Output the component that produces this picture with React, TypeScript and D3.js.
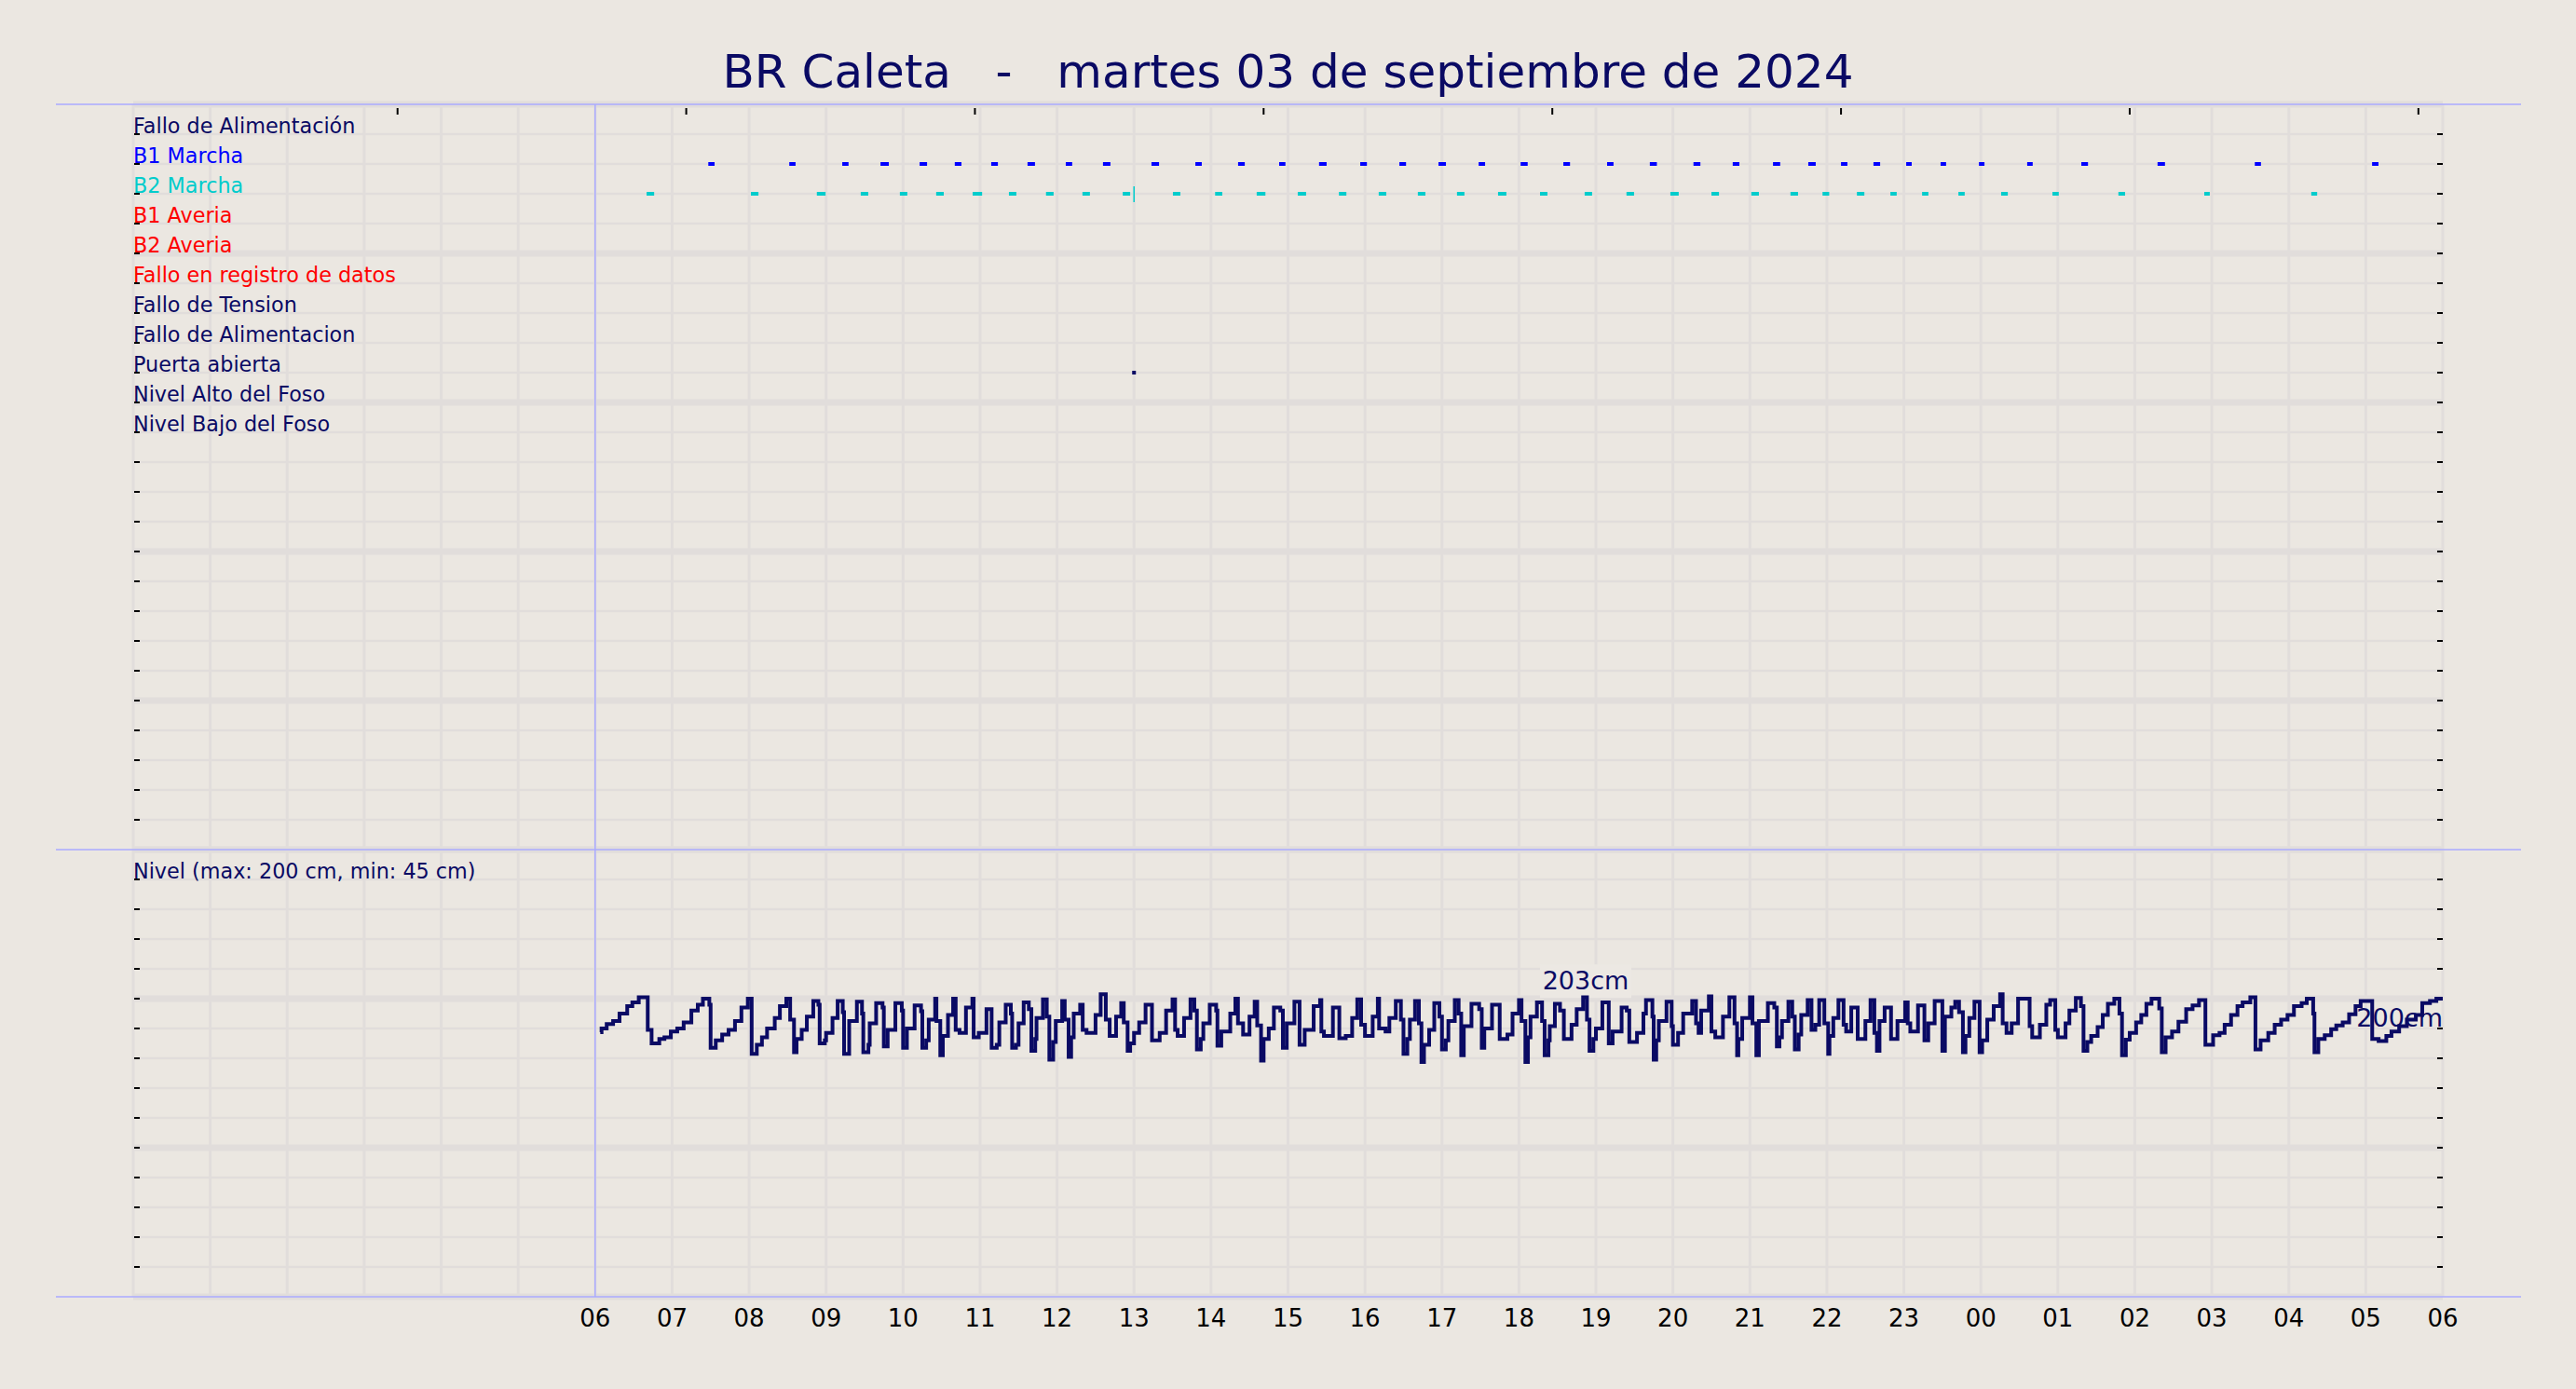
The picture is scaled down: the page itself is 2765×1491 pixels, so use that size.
import React from "react";
import * as d3 from "d3";

// ---------- DATA ----------
const title = "BR Caleta   -   martes 03 de septiembre de 2024";

const rowLabels = [
  "Fallo de Alimentación",
  "B1 Marcha",
  "B2 Marcha",
  "B1 Averia",
  "B2 Averia",
  "Fallo en registro de datos",
  "Fallo de Tension",
  "Fallo de Alimentacion",
  "Puerta abierta",
  "Nivel Alto del Foso",
  "Nivel Bajo del Foso",
];
const NAVY = "#0a0a64";
const rowColors = [NAVY, "#0000ff", "#00cccc", "#ff0000", "#ff0000", "#ff0000", NAVY, NAVY, NAVY, NAVY, NAVY];

// pump runs, minutes since 00:00 [start, end]
const b1Runs: [number, number][] = [
  [448.2, 453.1], [511.3, 516.2], [552.6, 557.5], [582.4, 588.9], [612.9, 618.7], [640.3, 645.5],
  [668.7, 673.9], [697.0, 702.8], [726.8, 731.8], [755.8, 761.6], [793.6, 799.5], [827.8, 832.8],
  [861.1, 866.3], [893.1, 898.0], [924.2, 930.1], [956.3, 961.5], [986.8, 992.0], [1017.3, 1023.1],
  [1048.6, 1053.6], [1081.3, 1086.8], [1114.6, 1119.8], [1148.7, 1153.7], [1182.0, 1187.5],
  [1216.0, 1221.4], [1246.6, 1251.8], [1278.0, 1283.6], [1305.5, 1311.3], [1331.0, 1336.0],
  [1356.3, 1361.5], [1381.8, 1386.1], [1408.6, 1412.9], [1438.5, 1442.8], [1476.1, 1480.4],
  [1518.3, 1523.5], [1577.7, 1583.5], [1653.5, 1658.3], [1744.9, 1749.9],
];
const b2Runs: [number, number][] = [
  [400.1, 406.0], [481.4, 487.3], [532.8, 539.6], [567.0, 572.9], [597.5, 603.3], [625.8, 631.7],
  [654.2, 661.6], [682.5, 688.3], [711.4, 717.3], [739.8, 745.6], [771.2, 777.0], [810.3, 816.1],
  [843.2, 848.8], [875.6, 882.4], [907.6, 914.1], [939.7, 945.5], [970.7, 976.6], [1001.2, 1007.1],
  [1031.7, 1037.5], [1063.7, 1070.2], [1096.4, 1102.2], [1131.2, 1137.0], [1163.8, 1169.7],
  [1198.0, 1204.5], [1230.0, 1235.9], [1261.1, 1267.0], [1291.6, 1297.5], [1316.6, 1321.8],
  [1343.4, 1349.2], [1369.5, 1374.4], [1394.2, 1399.1], [1422.5, 1427.4], [1455.8, 1461.0],
  [1495.8, 1500.7], [1547.2, 1552.4], [1614.1, 1618.4], [1697.5, 1702.1],
];
const b2Instants = [780];
const puertaInstants = [780];

// level samples [minute, cm]
const levelSeries: [number, number][] = [
  [364, 177.5], [365, 180], [369, 183], [374, 185], [379, 190], [385, 195], [389, 197.5], [394, 201],
  [401, 179], [404, 170], [410, 173], [414, 174], [419, 178], [424, 180], [429, 184], [435, 192],
  [440, 196], [444, 200], [449, 196], [450, 167], [454, 172], [459, 176], [464, 179], [469, 185],
  [474, 194], [479, 200], [482, 163], [486, 169], [490, 174], [494, 180], [500, 187], [504, 195],
  [509, 200], [512, 186], [515, 164], [517, 173], [521, 179], [525, 188], [530, 198.5], [534, 196],
  [535, 170], [539, 172], [540, 177], [545, 187], [549, 198.5], [553, 191], [554, 163], [558, 185],
  [564, 198], [568, 190], [569, 164], [573, 169], [574, 183.5], [579, 197], [584, 194], [585, 168],
  [588, 179], [594, 197], [599, 192], [600, 167], [603, 180], [609, 195.5], [614, 191.5], [615, 167],
  [618, 172], [620, 186], [625, 200], [626, 185], [629, 162], [631, 175], [635, 189], [639, 200],
  [641, 179], [644, 177], [649, 194], [654, 200], [655, 174], [659, 177], [665, 193], [669, 167],
  [673, 169], [675, 184], [680, 196], [684, 190], [685, 167], [688, 169], [690, 183.5], [694, 197.5],
  [698, 193], [700, 165], [703, 173], [704, 187], [709, 199.5], [712, 188], [714, 159], [717, 171],
  [719, 185], [724, 198.5], [726, 186], [729, 161],
  [731, 174], [733, 190], [738, 196], [740, 179], [743, 177], [750, 189], [754, 203], [758, 186],
  [761, 175], [766, 188], [770, 197], [772, 184], [775, 165], [777, 170], [780, 177], [784, 184],
  [789, 196], [794, 172], [800, 177], [805, 192], [810, 199.5], [812, 179], [814, 175], [819, 187],
  [824, 199.5], [827, 192], [829, 166], [832, 173], [834, 183.5], [839, 196], [844, 192], [845, 168.5],
  [848, 178], [855, 190], [859, 200], [861, 183.5], [865, 176], [870, 188], [874, 198], [876, 182],
  [879, 158.5], [881, 173], [885, 180], [889, 194], [894, 192], [896, 167], [899, 183.5], [905, 198],
  [909, 169], [913, 179], [920, 195], [925, 199], [926, 178], [928, 175], [935, 194], [940, 173.5],
  [945, 175], [950, 187], [954, 199.5], [957, 182.5], [960, 175], [966, 188], [970, 200], [971, 180],
  [976, 178], [979, 187], [984, 198.5], [988, 186], [990, 163], [993, 173], [995, 186], [999, 198.5],
  [1002, 183.5], [1004, 157.5], [1006, 169], [1010, 179], [1014, 197], [1018, 188], [1020, 166],
  [1023, 172], [1025, 185], [1030, 199], [1033, 190], [1035, 162], [1037, 181.5], [1043, 196.5],
  [1049, 193], [1051, 167], [1053, 180], [1059, 196], [1065, 173], [1071, 176], [1075, 190],
  [1080, 199], [1082, 185], [1085, 157.5], [1087, 174], [1089, 188], [1094, 197.5], [1098, 185],
  [1100, 162], [1103, 172],
  [1104, 181.5], [1108, 196.5], [1112, 192], [1115, 173], [1121, 182.5], [1125, 193], [1130, 201],
  [1133, 186], [1135, 165], [1138, 173], [1140, 180], [1145, 197.5], [1150, 170], [1153, 178],
  [1160, 194], [1164, 192], [1166, 171], [1172, 177], [1177, 190], [1179, 199], [1184, 188],
  [1185, 159], [1187, 172], [1189, 185], [1195, 198], [1199, 181.5], [1200, 169], [1204, 177],
  [1208, 190], [1215, 198.5], [1218, 183.5], [1220, 177], [1222, 192], [1228, 201.5], [1230, 178],
  [1233, 174], [1239, 188], [1244, 201], [1248, 183.5], [1250, 162], [1251, 173], [1254, 187],
  [1260, 201], [1262, 183.5], [1265, 162], [1267, 185], [1274, 197], [1279, 194], [1281, 168],
  [1283, 174], [1285, 185], [1290, 198], [1293, 188], [1295, 166], [1298, 176], [1300, 189],
  [1305, 199], [1308, 179], [1311, 182.5], [1314, 199], [1318, 183.5], [1321, 163], [1322, 175],
  [1325, 187], [1329, 199], [1333, 182.5], [1335, 178], [1339, 194], [1344, 173], [1350, 185],
  [1354, 199], [1357, 177], [1359, 165], [1361, 185], [1365, 194], [1370, 173], [1375, 185],
  [1381, 197.5], [1383, 183.5], [1385, 178], [1391, 195.5], [1396, 172], [1399, 183.5], [1404, 198.5],
  [1410, 165], [1412, 188], [1417, 194], [1420, 198], [1423, 191], [1426, 164], [1428, 175],
  [1431, 187], [1435, 198], [1439, 164], [1441, 172], [1445, 186], [1450, 195], [1455, 203],
  [1457, 183.5], [1460, 177], [1464, 183.5], [1469, 200], [1478, 181.5],
  [1480, 174], [1486, 182.5], [1491, 196], [1494, 199], [1498, 179], [1500, 174], [1506, 183.5],
  [1509, 192], [1514, 200.5], [1518, 195], [1520, 165], [1523, 171], [1526, 175], [1531, 181],
  [1535, 189], [1539, 196.5], [1544, 200], [1548, 190], [1550, 162], [1553, 172.5], [1556, 177],
  [1561, 184], [1565, 189], [1569, 196.5], [1573, 200], [1579, 193.5], [1581, 164], [1584, 174],
  [1589, 178], [1594, 184.5], [1600, 193], [1605, 195.5], [1610, 199], [1615, 169], [1621, 175.5],
  [1626, 177], [1630, 182.5], [1635, 189], [1640, 195], [1644, 197.5], [1650, 201], [1654, 166],
  [1658, 172], [1664, 177], [1669, 182.5], [1674, 186], [1679, 189], [1684, 195], [1690, 197],
  [1694, 200], [1699, 190], [1700, 164], [1703, 173], [1708, 175.5], [1713, 179.5], [1717, 182],
  [1722, 184], [1727, 189.5], [1732, 195], [1736, 198.5], [1745, 173], [1750, 171.5], [1756, 175],
  [1760, 178], [1766, 181.5], [1772, 186], [1779, 189], [1784, 197], [1790, 198.5], [1795, 200],
  [1800, 200],
];

const levelTitle = "Nivel (max: 200 cm, min: 45 cm)";
const maxLabel = { t: 1132, v: 203, text: "203cm" };
const lastLabel = { t: 1800, v: 200, text: "200cm" };

const hourTicks = d3.range(6, 31); // labelled hours (06 .. 06 next day)
const gridHours = d3.range(0, 31);
const topAxisTicks = [206, 431, 656, 881, 1106, 1331, 1556, 1781]; // minutes
const startMinute = 360;

// ---------- LAYOUT ----------
const W = 2765;
const H = 1491;
const L = 143;
const R = 2622;
const TOP = 112;
const MID = 912;
const BOT = 1392;
const BG = "#ebe7e1";
const GRID = "#e1dddb";
const BLUE = "#aaaaff";
const FONT = "DejaVu Sans, Liberation Sans, sans-serif";

export default function App() {
  const x = d3.scaleLinear().domain([0, 1800]).range([L, R]);
  const yTop = d3.scaleLinear().domain([0, 25]).range([MID, TOP]);
  const yLev = d3.scaleLinear().domain([0, 300]).range([BOT, MID]);

  const line = d3
    .line<[number, number]>()
    .x((d) => x(d[0]))
    .y((d) => yLev(d[1]))
    .curve(d3.curveStepAfter);

  const topRows = d3.range(0, 26);
  const levRows = d3.range(0, 301, 20);
  const rowY = (i: number) => yTop(24 - i);

  const mlx = x(maxLabel.t);
  const mly = yLev(maxLabel.v) - 5;

  return (
    <svg
      width={W}
      height={H}
      style={{ position: "absolute", left: 0, top: 0, display: "block", background: BG }}
      fontFamily={FONT}
    >
      <rect x={0} y={0} width={W} height={H} fill={BG} />

      {/* vertical grid */}
      {gridHours.map((h) => (
        <line key={"vg" + h} x1={x(h * 60)} x2={x(h * 60)} y1={TOP} y2={BOT} stroke={GRID} strokeWidth={3} />
      ))}
      {/* horizontal grid top */}
      {topRows.map((r) => (
        <line key={"tg" + r} x1={L} x2={R} y1={yTop(r)} y2={yTop(r)} stroke={GRID} strokeWidth={r % 5 === 0 ? 7 : 2.5} />
      ))}
      {levRows.map((v) => (
        <line key={"lg" + v} x1={L} x2={R} y1={yLev(v)} y2={yLev(v)} stroke={GRID} strokeWidth={v % 100 === 0 ? 7 : 2.5} />
      ))}

      {/* blue frame lines */}
      {[TOP, MID, BOT].map((yy) => (
        <line key={"bl" + yy} x1={60} x2={2706} y1={yy} y2={yy} stroke={BLUE} strokeWidth={1.5} />
      ))}
      <line x1={x(startMinute)} x2={x(startMinute)} y1={TOP} y2={BOT} stroke={BLUE} strokeWidth={1.5} />

      {/* y ticks left/right */}
      {topRows.filter((r) => r > 0 && r < 25).map((r) => (
        <g key={"tt" + r}>
          <line x1={L + 1} x2={L + 7} y1={yTop(r)} y2={yTop(r)} stroke="#000" strokeWidth={2} />
          <line x1={R - 6} x2={R} y1={yTop(r)} y2={yTop(r)} stroke="#000" strokeWidth={2} />
        </g>
      ))}
      {levRows.filter((v) => v > 0 && v < 300).map((v) => (
        <g key={"lt" + v}>
          <line x1={L + 1} x2={L + 7} y1={yLev(v)} y2={yLev(v)} stroke="#000" strokeWidth={2} />
          <line x1={R - 6} x2={R} y1={yLev(v)} y2={yLev(v)} stroke="#000" strokeWidth={2} />
        </g>
      ))}
      {/* top ticks */}
      {topAxisTicks.map((m) => (
        <line key={"ta" + m} x1={x(m)} x2={x(m)} y1={TOP + 4} y2={TOP + 11} stroke="#000" strokeWidth={2} />
      ))}

      {/* title */}
      <text x={W / 2} y={94} textAnchor="middle" fontSize={50} fill={NAVY} style={{ whiteSpace: "pre" }}>
        {title}
      </text>

      {/* row labels */}
      {rowLabels.map((lab, i) => (
        <text key={"rl" + i} x={L} y={rowY(i) - 1} fontSize={22.3} fill={rowColors[i]}>
          {lab}
        </text>
      ))}
      <text x={L} y={yLev(280) - 1} fontSize={22.3} fill={NAVY}>
        {levelTitle}
      </text>

      {/* events */}
      {b1Runs.map(([s, e], i) => (
        <line key={"b1" + i} x1={x(s)} x2={x(e)} y1={rowY(1)} y2={rowY(1)} stroke="#0000ff" strokeWidth={4} />
      ))}
      {b2Runs.map(([s, e], i) => (
        <line key={"b2" + i} x1={x(s)} x2={x(e)} y1={rowY(2)} y2={rowY(2)} stroke="#00cccc" strokeWidth={4} />
      ))}
      {b2Instants.map((m, i) => (
        <line key={"b2i" + i} x1={x(m)} x2={x(m)} y1={rowY(2) - 8} y2={rowY(2) + 9} stroke="#00cccc" strokeWidth={1.5} />
      ))}
      {puertaInstants.map((m, i) => (
        <rect key={"pa" + i} x={x(m) - 2} y={rowY(8) - 2} width={4} height={4} fill={NAVY} />
      ))}

      {/* max label box */}
      <rect x={mlx - 49} y={mly - 27} width={98} height={36} fill="#ece8e3" />

      {/* level line */}
      <path d={line(levelSeries) || ""} fill="none" stroke={NAVY} strokeWidth={4} strokeLinejoin="miter" />

      {/* annotations */}
      <text x={mlx} y={mly} textAnchor="middle" fontSize={27} fill={NAVY}>
        {maxLabel.text}
      </text>
      <text x={x(lastLabel.t)} y={yLev(lastLabel.v) + 30} textAnchor="end" fontSize={27} fill={NAVY}>
        {lastLabel.text}
      </text>

      {/* x labels */}
      {hourTicks.map((h) => (
        <text key={"xl" + h} x={x(h * 60)} y={1424} textAnchor="middle" fontSize={26} fill="#000">
          {String(h % 24).padStart(2, "0")}
        </text>
      ))}
    </svg>
  );
}
